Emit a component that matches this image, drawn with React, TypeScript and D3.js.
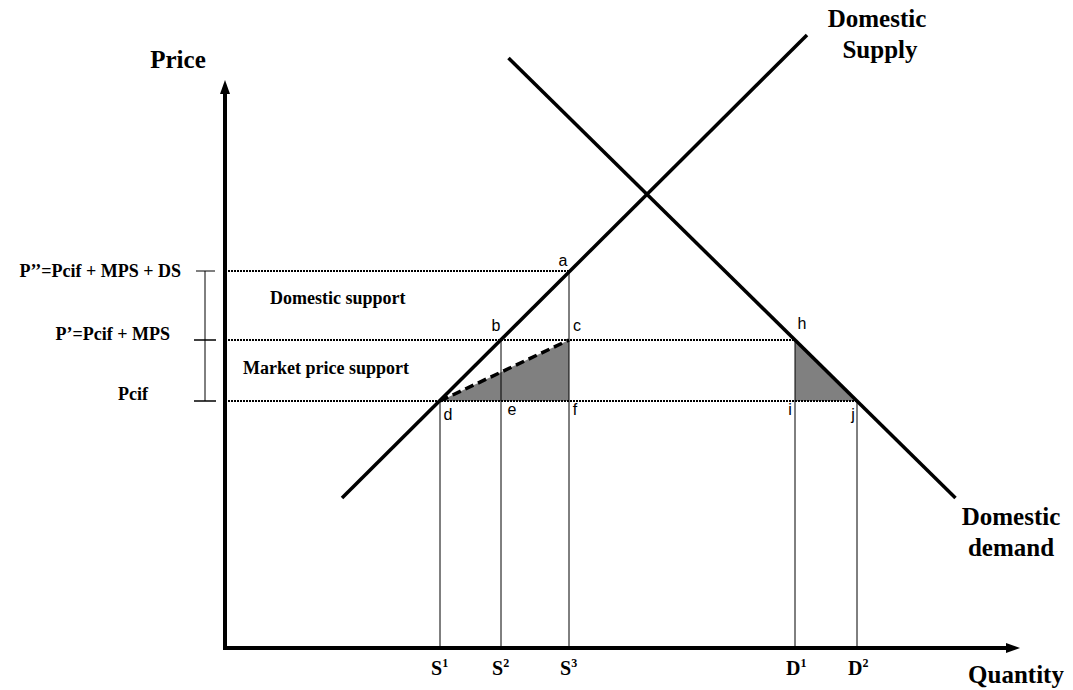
import React, { useEffect } from 'react';
import * as d3 from 'd3';

// quantities on the horizontal axis (S1, S2, S3, D1, D2)
const qtyLabels = ['S', 'S', 'S', 'D', 'D'];
const qtySup = ['1', '2', '3', '1', '2'];
const qtyValues = [43, 55.2, 68.8, 114, 126.4];

// price levels
const priceNames = ['Pcif', 'P\u2019', 'P\u2019\u2019'];
const priceValues = [49.4, 61.6, 75.4];

// curves (endpoints)
const supplyPts: [number, number][] = [[23.4, 30], [116.4, 122.6]];
const demandPts: [number, number][] = [[56.7, 118], [146.1, 30]];

// labelled points: [letter, quantity, price, dx, dy]
const pointLabels: [string, number, number, number, number][] = [
  ['a', 68.8, 75.4, -6, -5],
  ['b', 55.2, 61.6, -5, -9],
  ['c', 68.8, 61.6, 8, -9],
  ['d', 43, 49.4, 8, 19],
  ['e', 55.2, 49.4, 11, 14],
  ['f', 68.8, 49.4, 6, 14],
  ['h', 114, 61.6, 7, -11],
  ['i', 114, 49.4, -5, 14],
  ['j', 126.4, 49.4, -4, 19],
];

const W = 1073;
const H = 690;
const serif = '"Liberation Serif", "Times New Roman", serif';
const sans = '"Liberation Sans", Arial, sans-serif';

export default function App() {
  useEffect(() => {
    document.body.style.margin = '0';
  }, []);

  const x = d3.scaleLinear().domain([0, 159]).range([225, 1020]);
  const y = d3.scaleLinear().domain([0, 113.6]).range([648, 80]);

  const line = d3.line<[number, number]>()
    .x(d => x(d[0]))
    .y(d => y(d[1]));

  const [S1, S2, S3, D1, D2] = qtyValues;
  const [pc, p1, p2] = priceValues;

  const shadeLeft: [number, number][] = [[S1, pc], [S3, p1], [S3, pc]];
  const shadeRight: [number, number][] = [[D1, p1], [D1, pc], [D2, pc]];

  // vertical drop lines: [quantity, top price]
  const drops: [number, number][] = [[S1, pc], [S2, p1], [S3, p2], [D1, p1], [D2, pc]];
  // dotted price lines: [price, end quantity]
  const dotted: [number, number][] = [[p2, S3], [p1, D1], [pc, D2]];

  const x0 = x(0);
  const y0 = y(0);
  const bx = 205;

  return (
    <svg width={W} height={H} style={{ display: 'block', background: '#fff' }}>
      {/* shaded areas */}
      <path d={line(shadeLeft) + 'Z'} fill="#808080" />
      <path d={line(shadeRight) + 'Z'} fill="#808080" />

      {/* dotted price lines */}
      {dotted.map(([p, q], i) => (
        <line key={'dt' + i} x1={x0} x2={x(q)} y1={y(p)} y2={y(p)}
          stroke="#000" strokeWidth={2.2} strokeDasharray="2,1" />
      ))}

      {/* vertical drop lines */}
      {drops.map(([q, p], i) => (
        <line key={'dr' + i} x1={x(q)} x2={x(q)} y1={y(p)} y2={y0}
          stroke="#000" strokeWidth={1} />
      ))}

      {/* dashed d-c line */}
      <line x1={x(S1)} y1={y(pc)} x2={x(S3)} y2={y(p1)}
        stroke="#000" strokeWidth={3.5} strokeDasharray="9,5" />

      {/* supply & demand */}
      <path d={line(supplyPts) ?? ''} fill="none" stroke="#000" strokeWidth={3.5} />
      <path d={line(demandPts) ?? ''} fill="none" stroke="#000" strokeWidth={3.5} />

      {/* axes */}
      <line x1={x0} y1={y0 + 2} x2={x0} y2={y.range()[1] + 12} stroke="#000" strokeWidth={4} />
      <path d={`M${x0 - 5},${y.range()[1] + 14}L${x0},${y.range()[1]}L${x0 + 5},${y.range()[1] + 14}Z`} fill="#000" />
      <line x1={x0 - 2} y1={y0} x2={x.range()[1] - 12} y2={y0} stroke="#000" strokeWidth={4} />
      <path d={`M${x.range()[1] - 14},${y0 - 5}L${x.range()[1]},${y0}L${x.range()[1] - 14},${y0 + 5}Z`} fill="#000" />

      {/* bracket on the left */}
      <line x1={bx} x2={bx} y1={y(p2)} y2={y(pc)} stroke="#000" strokeWidth={1} />
      {priceValues.map((p, i) => (
        <line key={'bt' + i} x1={i === 2 ? bx - 9 : bx - 11} x2={i === 2 ? bx + 10 : bx + 11}
          y1={y(p)} y2={y(p)} stroke="#000" strokeWidth={i === 2 ? 1 : 1.5} />
      ))}

      {/* price labels */}
      <g fontFamily={serif} fontWeight="bold" fontSize={18} fill="#000">
        <text x={181} y={y(p2) + 6} textAnchor="end">{priceNames[2]}=Pcif + MPS + DS</text>
        <text x={170} y={y(p1) + 0} textAnchor="end">{priceNames[1]}=Pcif + MPS</text>
        <text x={133} y={y(pc) - 1} textAnchor="middle">{priceNames[0]}</text>
        <text x={270} y={304}>Domestic support</text>
        <text x={243} y={374}>Market price support</text>
      </g>

      {/* point letters */}
      <g fontFamily={sans} fontSize={16} fill="#000" textAnchor="middle">
        {pointLabels.map(([t, q, p, dx, dy]) => (
          <text key={t} x={x(q) + dx} y={y(p) + dy}>{t}</text>
        ))}
      </g>

      {/* quantity labels */}
      <g fontFamily={serif} fontWeight="bold" fontSize={20} fill="#000">
        {qtyValues.map((q, i) => (
          <text key={'q' + i} x={x(q) - 9} y={675}>
            {qtyLabels[i]}
            <tspan fontSize={12} dy={-8}>{qtySup[i]}</tspan>
          </text>
        ))}
      </g>

      {/* axis and curve titles */}
      <g fontFamily={serif} fontWeight="bold" fontSize={25} fill="#000" textAnchor="middle">
        <text x={178} y={68}>Price</text>
        <text x={1016} y={683}>Quantity</text>
        <text x={877} y={27}>Domestic</text>
        <text x={880} y={58}>Supply</text>
        <text x={1011} y={525}>Domestic</text>
        <text x={1011} y={556}>demand</text>
      </g>
    </svg>
  );
}
